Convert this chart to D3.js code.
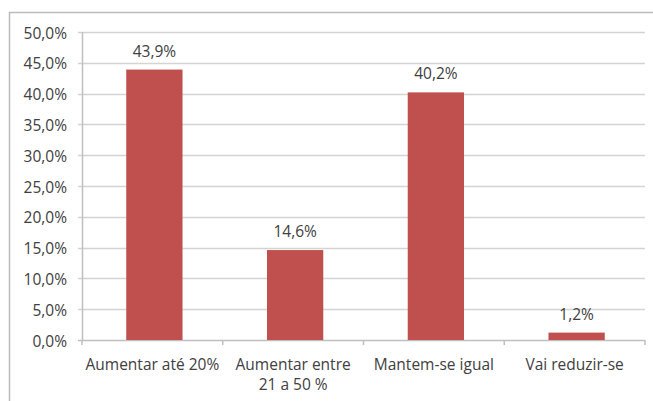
<!DOCTYPE html>
<html>
<head>
<meta charset="utf-8">
<script src="https://cdn.jsdelivr.net/npm/d3@7"></script>
<style>
  body { margin: 0; background: #fff; }
  svg { display: block; font-family: "Open Sans", sans-serif; }
</style>
</head>
<body>
<script>
const w = 653, h = 401;
const categories = [['Aumentar até 20%'], ['Aumentar entre', '21 a 50 %'], ['Mantem-se igual'], ['Vai reduzir-se']];
const values = [43.9, 14.6, 40.2, 1.2];
const yTicks = [0, 5, 10, 15, 20, 25, 30, 35, 40, 45, 50];

const pLeft = 82, pRight = 645, pTop = 32, pBottom = 340;
const fmt = v => v.toFixed(1).replace('.', ',') + '%';
const fs = 15.5;

const svg = d3.select('body').append('svg').attr('width', w).attr('height', h);

// chart border
svg.append('rect').attr('x', 9.5).attr('y', 12.5).attr('width', 660).attr('height', 400)
  .attr('fill', 'none').attr('stroke', '#bcbcbc').attr('stroke-width', 1.5);

const x = d3.scaleBand().domain(d3.range(values.length)).range([pLeft + 2, pRight + 2]).paddingInner(0.6).paddingOuter(0.3);
const xb = d3.scaleBand().domain(d3.range(values.length)).range([pLeft, pRight]);
const y = d3.scaleLinear().domain([0, 50]).range([pBottom, pTop]);

// grid lines
svg.append('g').selectAll('line').data(yTicks).enter().append('line')
  .attr('x1', pLeft - 4).attr('x2', pRight)
  .attr('y1', d => Math.round(y(d)) + 0.5).attr('y2', d => Math.round(y(d)) + 0.5)
  .attr('stroke', d => d === 0 ? '#bfbfbf' : '#d4d4d4').attr('stroke-width', 1.5);

// y axis line
svg.append('line').attr('x1', pLeft + 0.5).attr('x2', pLeft + 0.5).attr('y1', pTop).attr('y2', pBottom)
  .attr('stroke', '#bfbfbf').attr('stroke-width', 1.5);

// x ticks
svg.append('g').selectAll('line').data(d3.range(values.length + 1)).enter().append('line')
  .attr('x1', i => pLeft + i * xb.bandwidth()).attr('x2', i => pLeft + i * xb.bandwidth())
  .attr('y1', pBottom).attr('y2', pBottom + 5)
  .attr('stroke', '#bfbfbf').attr('stroke-width', 1.5);

// y labels
svg.append('g').selectAll('text').data(yTicks).enter().append('text')
  .attr('x', 67).attr('y', d => y(d) + 6.5)
  .attr('text-anchor', 'end').attr('font-size', fs).attr('fill', '#404040')
  .text(d => fmt(d));

// bars
svg.append('g').selectAll('rect').data(values).enter().append('rect')
  .attr('x', (d, i) => x(i)).attr('width', x.bandwidth())
  .attr('y', d => y(d)).attr('height', d => pBottom - y(d))
  .attr('fill', '#c0504d');

// value labels
svg.append('g').selectAll('text').data(values).enter().append('text')
  .attr('x', (d, i) => x(i) + x.bandwidth() / 2).attr('y', d => y(d) - 13)
  .attr('text-anchor', 'middle').attr('font-size', fs).attr('fill', '#404040')
  .text(d => fmt(d));

// category labels
const cat = svg.append('g').selectAll('text').data(categories).enter().append('text')
  .attr('x', (d, i) => xb(i) + xb.bandwidth() / 2).attr('y', 370)
  .attr('text-anchor', 'middle').attr('font-size', fs).attr('fill', '#404040');
cat.selectAll('tspan').data(d => d).enter().append('tspan')
  .attr('x', function() { return this.parentNode.getAttribute('x'); })
  .attr('dy', (d, i) => i === 0 ? 0 : 20)
  .text(d => d);
</script>
</body>
</html>
